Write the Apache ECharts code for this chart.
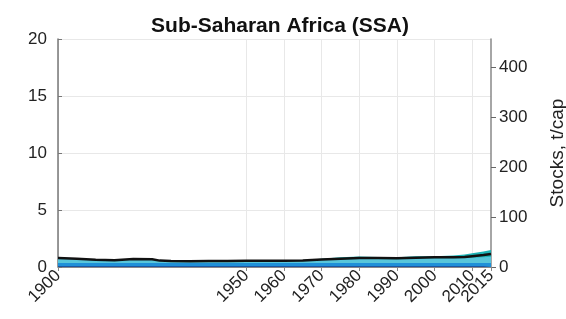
<!DOCTYPE html>
<html>
<head>
<meta charset="utf-8">
<script src="https://cdn.jsdelivr.net/npm/echarts@6/dist/echarts.min.js"></script>
<style>
  html, body { margin: 0; padding: 0; background: #fff; }
  #chart { width: 566px; height: 319px; }
</style>
</head>
<body>
<div id="chart"></div>
<script>
const years = [1900, 1905, 1910, 1915, 1920, 1925, 1927, 1930, 1935, 1940, 1945, 1950, 1955, 1960, 1965,
  1970, 1975, 1980, 1985, 1990, 1995, 2000, 2005, 2008, 2010, 2013, 2015];
const navy = [0.08, 0.08, 0.08, 0.08, 0.08, 0.08, 0.08, 0.08, 0.08, 0.08, 0.08, 0.08, 0.08, 0.08, 0.08,
  0.08, 0.08, 0.08, 0.08, 0.08, 0.08, 0.08, 0.08, 0.08, 0.08, 0.08, 0.08];
const blue = [0.28, 0.28, 0.28, 0.28, 0.28, 0.28, 0.28, 0.28, 0.28, 0.28, 0.28, 0.28, 0.28, 0.28, 0.28,
  0.28, 0.28, 0.28, 0.28, 0.28, 0.28, 0.28, 0.28, 0.28, 0.28, 0.28, 0.28];
const cyan = [0.42, 0.34, 0.25, 0.22, 0.32, 0.3, 0.18, 0.14, 0.12, 0.14, 0.15, 0.17, 0.17, 0.17, 0.2,
  0.25, 0.3, 0.35, 0.35, 0.33, 0.38, 0.4, 0.4, 0.42, 0.45, 0.5, 0.55];
const teal = [0.04, 0.04, 0.04, 0.04, 0.04, 0.04, 0.04, 0.04, 0.04, 0.04, 0.04, 0.04, 0.04, 0.04, 0.05,
  0.11, 0.19, 0.21, 0.17, 0.16, 0.21, 0.19, 0.24, 0.32, 0.39, 0.49, 0.59];
const black = [0.8, 0.72, 0.63, 0.6, 0.7, 0.68, 0.56, 0.52, 0.5, 0.52, 0.53, 0.55, 0.55, 0.55, 0.58,
  0.65, 0.72, 0.78, 0.78, 0.76, 0.82, 0.85, 0.85, 0.88, 0.95, 1.05, 1.15];
const xTicks = [1900, 1950, 1960, 1970, 1980, 1990, 2000, 2010];
const xTickEnd = [2015];
const rightTicks = [0, 100, 200, 300, 400];

// layers bottom -> top, stacked by hand (value x axis)
const layers = [
  { name: "navy", vals: navy, color: "#1c56a3" },
  { name: "blue", vals: blue, color: "#1f90d8" },
  { name: "cyan", vals: cyan, color: "#58c6da" },
  { name: "teal", vals: teal, color: "#1db2b4" },
];
const running = years.map(() => 0);
layers.forEach((l) => {
  l.cum = l.vals.map((v, i) => (running[i] += v));
});

const pairs = (vals) => years.map((y, i) => [y, vals[i]]);

const chart = echarts.init(document.getElementById("chart"));
const font = "Liberation Sans, Arial, sans-serif";

// draw top layer first so lower ones paint over it
const areaSeries = layers
  .slice()
  .reverse()
  .map((l, k) => ({
    name: l.name,
    type: "line",
    data: pairs(l.cum),
    showSymbol: false,
    lineStyle: { width: 0 },
    areaStyle: { color: l.color, opacity: 1 },
    itemStyle: { color: l.color },
    silent: true,
    z: 2 + k * 0.1,
  }));

const xLabel = {
  showMinLabel: true,
  showMaxLabel: true,
  formatter: (v) => String(v),
  rotate: 45,
  fontFamily: font,
  fontSize: 17,
  color: "#222",
  margin: 6,
};

const option = {
  animation: false,
  title: {
    text: "Sub-Saharan Africa (SSA)",
    left: 275,
    textAlign: "center",
    top: 11,
    textStyle: { fontFamily: font, fontSize: 21, fontWeight: "bold", color: "#111" },
  },
  grid: { left: 58, right: 75, top: 39, bottom: 52, outerBoundsMode: "none", containLabel: false },
  xAxis: [
    {
      type: "value",
      min: 1900,
      max: 2015,
      axisLine: { show: true, lineStyle: { color: "#888" } },
      axisTick: { show: true, customValues: xTicks, length: 4, lineStyle: { color: "#888" } },
      axisLabel: Object.assign({ customValues: xTicks }, xLabel),
      splitLine: { show: true, lineStyle: { color: "#e8e8e8" } },
    },
    {
      type: "value",
      position: "bottom",
      min: 1900,
      max: 2015,
      axisLine: { show: false },
      axisTick: { show: true, customValues: xTickEnd, length: 4, lineStyle: { color: "#888" } },
      axisLabel: Object.assign({ customValues: xTickEnd }, xLabel),
      splitLine: { show: false },
    },
  ],
  yAxis: [
    {
      type: "value",
      min: 0,
      max: 20,
      interval: 5,
      axisLine: { show: true, lineStyle: { color: "#777", width: 1.5 } },
      axisTick: { show: true, inside: true, length: 4, lineStyle: { color: "#777" } },
      axisLabel: { fontFamily: font, fontSize: 17, color: "#222", margin: 11 },
      splitLine: { show: true, lineStyle: { color: "#e8e8e8" } },
    },
    {
      type: "value",
      position: "right",
      min: 0,
      max: 456,
      axisLine: { show: true, lineStyle: { color: "#888", width: 1.5 } },
      axisTick: { show: true, customValues: rightTicks, length: 5, lineStyle: { color: "#666" } },
      axisLabel: { customValues: rightTicks, fontFamily: font, fontSize: 17, color: "#222", margin: 8 },
      splitLine: { show: false },
      name: "Stocks, t/cap",
      nameLocation: "middle",
      nameRotate: 90,
      nameGap: 57,
      nameTextStyle: { fontFamily: font, fontSize: 19, color: "#222" },
    },
  ],
  series: areaSeries.concat([
    {
      name: "total",
      type: "line",
      data: pairs(black),
      showSymbol: false,
      lineStyle: { color: "#111", width: 2.5 },
      silent: true,
      z: 5,
    },
  ]),
};

option && chart.setOption(option);
</script>
</body>
</html>
